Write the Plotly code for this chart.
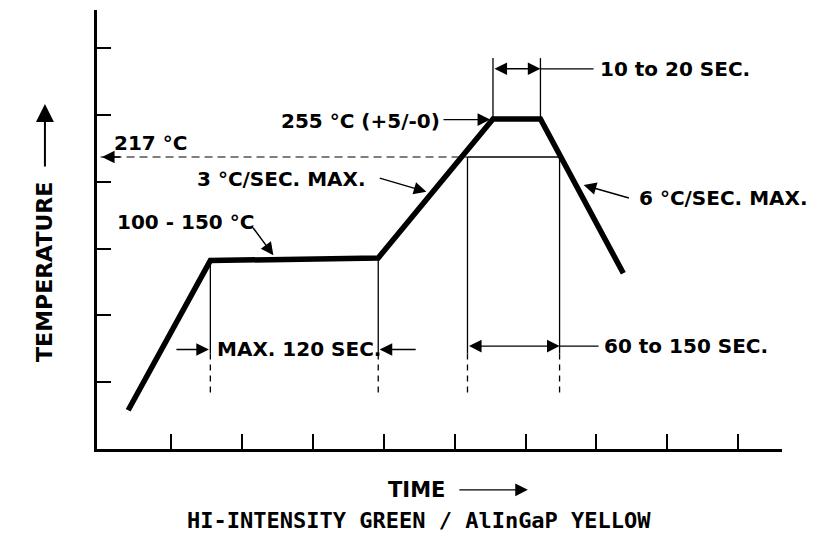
import plotly.graph_objects as go

# ---- schematic data (time units, temperature units) ----
profile_time = [0.39, 1.55, 3.92, 5.54, 6.21, 7.38]
profile_temp = [0.58, 2.82, 2.86, 4.94, 4.94, 2.63]

x_ticks = [1, 2, 3, 4, 5, 6, 7, 8, 9]
y_ticks = [1, 2, 3, 4, 5, 6]

liquidus_temp = 4.37           # 217 °C level
liquidus_times = [5.18, 6.48]  # crossings used for 60-150 s window
soak_times = [1.55, 3.92]      # soak start / end
soak_temp_levels = [2.82, 2.86]
peak_times = [5.54, 6.21]
peak_temp = 4.94

soak_dim_level = 1.49
liq_dim_level = 1.54
peak_dim_level = 5.69
solid_bottom = 1.43
dash_bottom = 0.84
peak_guide_top = 5.85

labels = [
    ("217 °C", 0.16, 4.58),
    ("3 °C/SEC. MAX.", 1.34, 4.04),
    ("100 - 150 °C", 0.20, 3.40),
    ("255 °C (+5/-0)", 2.52, 4.91),
    ("10 to 20 SEC.", 7.02, 5.69),
    ("6 °C/SEC. MAX.", 7.58, 3.75),
    ("MAX. 120 SEC.", 1.62, 1.50),
    ("60 to 150 SEC.", 7.08, 1.54),
]
# pointer arrows: (tail_t, tail_k, head_t, head_k)
pointers = [
    (3.92, 4.06, 4.60, 3.85),   # 3 °C/SEC
    (2.14, 3.33, 2.44, 2.90),   # 100-150 °C
    (4.82, 4.93, 5.50, 4.93),   # 255 °C
    (7.48, 3.75, 6.82, 3.95),   # 6 °C/SEC
    (1.05, 1.49, 1.53, 1.49),   # MAX 120 left
    (4.47, 1.49, 3.94, 1.49),   # MAX 120 right
    (0.30, 4.37, 0.02, 4.37),   # 217 arrow to axis
]

axis_title_y = "TEMPERATURE"
axis_title_x = "TIME"
caption = "HI-INTENSITY GREEN / AlInGaP YELLOW"

FONT = "DejaVu Sans"

fig = go.Figure()
fig.add_trace(go.Scatter(x=profile_time, y=profile_temp, mode="lines",
                         line=dict(color="black", width=5.5), hoverinfo="skip",
                         showlegend=False))

shapes = []
def seg(x0, y0, x1, y1, w=1.3, dash="solid"):
    shapes.append(dict(type="line", xref="x", yref="y", x0=x0, y0=y0, x1=x1, y1=y1,
                       line=dict(color="black", width=w, dash=dash)))

# 217 dashed line
seg(0.0, liquidus_temp, liquidus_times[0], liquidus_temp, 1.2, "8px,5px")
seg(liquidus_times[0], liquidus_temp, liquidus_times[1], liquidus_temp, 1.3)
# liquidus verticals
for t in liquidus_times:
    seg(t, liquidus_temp, t, solid_bottom, 1.3)
    seg(t, solid_bottom, t, dash_bottom, 1.3, "6px,5px")
# soak verticals
for t, k in zip(soak_times, soak_temp_levels):
    seg(t, k, t, solid_bottom, 1.3)
    seg(t, solid_bottom, t, dash_bottom, 1.3, "6px,5px")
# peak verticals
for t in peak_times:
    seg(t, peak_guide_top, t, peak_temp, 1.3)
# leader lines to texts
seg(peak_times[1], peak_dim_level, 6.96, peak_dim_level, 1.3)
seg(liquidus_times[1], liq_dim_level, 7.03, liq_dim_level, 1.3)

ann = []
for text, t, k in labels:
    ann.append(dict(x=t, y=k, xref="x", yref="y", text=text, showarrow=False,
                    xanchor="left", yanchor="middle",
                    font=dict(family=FONT, size=20, color="black", weight="bold")))

HEAD = dict(arrowhead=2, arrowsize=1.8, arrowwidth=1.4, arrowcolor="black",
            standoff=0, startstandoff=0, startarrowhead=2, startarrowsize=1.8)

def arrow(tx, ty, hx, hy, both=False):
    ann.append(dict(x=hx, y=hy, ax=tx, ay=ty, xref="x", yref="y", axref="x", ayref="y",
                    text="", showarrow=True,
                    arrowside="end+start" if both else "end", **HEAD))

for p in pointers:
    arrow(*p)
arrow(peak_times[0], peak_dim_level, peak_times[1], peak_dim_level, both=True)
arrow(liquidus_times[0], liq_dim_level, liquidus_times[1], liq_dim_level, both=True)

# axis titles (paper coordinates, outside the plotting area)
ann.append(dict(x=-0.077, y=0.404, xref="paper", yref="paper", text=axis_title_y,
                textangle=-90, showarrow=False, xanchor="center", yanchor="middle",
                font=dict(family=FONT, size=22, color="black", weight="bold")))
ann.append(dict(x=-0.076, y=0.786, xref="paper", yref="paper", text="", showarrow=True,
                ax=0, ay=64, **dict(HEAD, arrowwidth=2)))
ann.append(dict(x=0.466, y=-0.093, xref="paper", yref="paper", text=axis_title_x,
                showarrow=False, xanchor="center", yanchor="middle",
                font=dict(family=FONT, size=21, color="black", weight="bold")))
ann.append(dict(x=0.629, y=-0.093, xref="paper", yref="paper", text="", showarrow=True,
                ax=-70, ay=0, **HEAD))
ann.append(dict(x=0.470, y=-0.162, xref="paper", yref="paper", text=caption,
                showarrow=False, xanchor="center", yanchor="middle",
                font=dict(family="DejaVu Sans Mono", size=22, color="black", weight="bold")))

fig.update_layout(
    width=837, height=540,
    margin=dict(l=89, r=63, t=2, b=99),
    paper_bgcolor="white", plot_bgcolor="white",
    shapes=shapes, annotations=ann, showlegend=False,
    xaxis=dict(range=[-0.05, 9.62], showgrid=False, zeroline=False, showline=True,
               linecolor="black", linewidth=3, ticks="inside", tickvals=x_ticks,
               ticklen=15, tickwidth=1.5, tickcolor="black", showticklabels=False,
               fixedrange=True),
    yaxis=dict(range=[0, 6.57], showgrid=False, zeroline=False, showline=True,
               linecolor="black", linewidth=3, ticks="inside", tickvals=y_ticks,
               ticklen=14, tickwidth=1.5, tickcolor="black", showticklabels=False,
               fixedrange=True),
)

fig.write_html("out.html")
